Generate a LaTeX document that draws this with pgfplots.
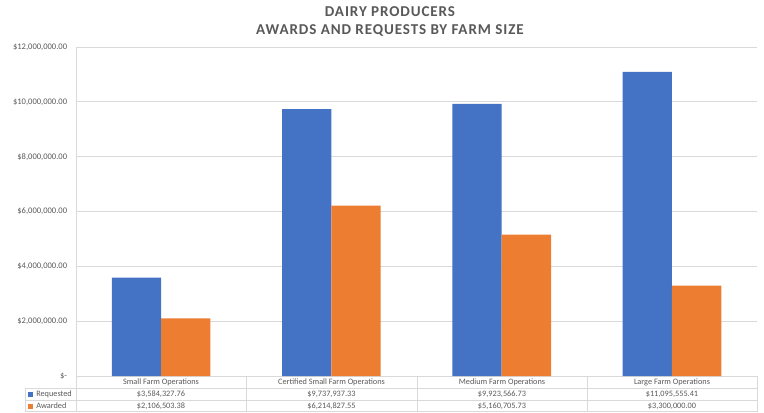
\documentclass[border=0pt]{standalone}
\usepackage{pgfplots}
\pgfplotsset{compat=1.18}
\usepackage{fontspec}
\setmainfont{Carlito}
\definecolor{req}{HTML}{4472C4}
\definecolor{awd}{HTML}{ED7D31}
\definecolor{txt}{HTML}{595959}
\definecolor{gridc}{HTML}{D9D9D9}
\begin{document}
\begin{tikzpicture}[x=0.75pt,y=0.75pt]
% picture frame, 764 x 412 px
\path[use as bounding box] (0,0) rectangle (764,412);
\begin{axis}[
	at={(57pt,27pt)}, anchor=south west,
	scale only axis,
	width=510.75pt, height=246.75pt,
	xmin=-0.5, xmax=3.5,
	ymin=0, ymax=12000000,
	axis x line=bottom, axis y line=left,
	axis line style={draw=gridc, line width=0.6pt, -},
	xtick=\empty,
	scaled y ticks=false,
	ytick={0,2000000,4000000,6000000,8000000,10000000,12000000},
	yticklabels={{\$-\hspace{3pt}},{\$2,000,000.00},{\$4,000,000.00},{\$6,000,000.00},{\$8,000,000.00},{\$10,000,000.00},{\$12,000,000.00}},
	yticklabel style={font=\fontsize{6.4}{7}\selectfont, text=txt, inner sep=0pt, xshift=-6.5pt},
	major tick length=0pt,
	ymajorgrids,
	grid style={draw=gridc, line width=0.6pt},
	bar width=0.29,
]
\addplot[ybar, fill=req, draw=none, bar shift=-0.145] coordinates {
	(0,3584327.76)
	(1,9737937.33)
	(2,9923566.73)
	(3,11095555.41)
};
\addplot[ybar, fill=awd, draw=none, bar shift=0.145] coordinates {
	(0,2106503.38)
	(1,6214827.55)
	(2,5160705.73)
	(3,3300000.00)
};
\end{axis}
% title
\node[text=txt, font=\fontsize{11.3}{13}\selectfont\bfseries\addfontfeatures{LetterSpace=6}, align=center] at (390,390)
	{DAIRY PRODUCERS\\[0.5pt]AWARDS AND REQUESTS BY FARM SIZE};
% data table
\begin{scope}[draw=gridc, line width=0.6pt]
	\draw (76,36) -- (76,0);
	\draw (25,0) -- (25,24);
	\foreach \xx in {246,417,587,757} \draw (\xx,36) -- (\xx,0);
	\draw (25,24) -- (757,24);
	\draw (25,12) -- (757,12);
	\draw (25,0.3) -- (757,0.3);
\end{scope}
\begin{scope}[font=\fontsize{6.2}{7}\selectfont, text=txt]
	\node at (161,30) {Small Farm Operations};
	\node at (331.5,30) {Certified Small Farm Operations};
	\node at (502,30) {Medium Farm Operations};
	\node at (672,30) {Large Farm Operations};
	\node at (161,18) {\$3,584,327.76};
	\node at (331.5,18) {\$9,737,937.33};
	\node at (502,18) {\$9,923,566.73};
	\node at (672,18) {\$11,095,555.41};
	\node at (161,6) {\$2,106,503.38};
	\node at (331.5,6) {\$6,214,827.55};
	\node at (502,6) {\$5,160,705.73};
	\node at (672,6) {\$3,300,000.00};
	\fill[req] (28,15.5) rectangle (33,20.5);
	\fill[awd] (28,3.5) rectangle (33,8.5);
	\node[anchor=west, inner sep=0pt] at (36,18) {Requested};
	\node[anchor=west, inner sep=0pt] at (36,6) {Awarded};
\end{scope}
\end{tikzpicture}
\end{document}
